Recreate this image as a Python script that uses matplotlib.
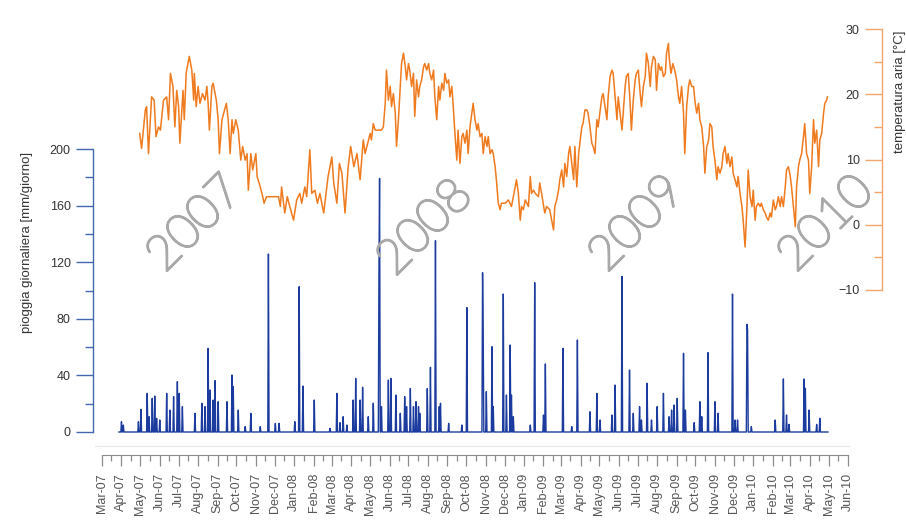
import numpy as np
import matplotlib
matplotlib.use("Agg")
import matplotlib.pyplot as plt
import matplotlib.dates as mdates
import matplotlib.patheffects as pe
from matplotlib.ticker import MultipleLocator, FixedLocator
from matplotlib import font_manager

plt.rcParams["font.family"] = ["Liberation Sans", "DejaVu Sans"]

# ---------------------------------------------------------------- data
origin = np.datetime64("2007-03-01")          # day offsets below count from here

# daily rainfall: zero except on the listed rain days
rain_first = np.datetime64("2007-03-28")
rain_last = np.datetime64("2010-04-30")
rain_day = [31, 34, 58, 62, 72, 75, 80, 84, 87, 92, 103, 108, 114, 120, 123, 128,
            148, 159, 164, 169, 172, 177, 180, 185, 199, 207, 209, 217, 228, 237,
            252, 265, 276, 282, 307, 314, 320, 338, 363, 374, 379, 384, 390, 400,
            404, 411, 415, 424, 432, 441, 442, 445, 456, 460, 468, 475, 482, 485,
            491, 496, 500, 504, 506, 518, 523, 531, 537, 539, 552, 573, 581, 606,
            607, 612, 621, 623, 639, 644, 650, 652, 655, 682, 689, 703, 706, 734,
            748, 757, 777, 788, 793, 812, 817, 828, 840, 846, 856, 859, 868, 875,
            884, 894, 903, 907, 911, 916, 926, 929, 943, 952, 955, 965, 976, 981,
            1004, 1008, 1012, 1027, 1028, 1034, 1072, 1085, 1090, 1094, 1118, 1120,
            1126, 1138, 1143]
rain_mm = [7.3, 4.9, 7.3, 16.0, 27.3, 10.8, 23.8, 25.4, 9.7, 8.5, 27.3, 15.5, 25.0, 35.6, 27.3, 17.9,
           13.2, 20.3, 17.9, 59.1, 29.7, 22.6, 36.3, 21.4, 21.4, 40.3, 32.0, 15.5, 3.8, 13.2,
           3.8, 125.8, 6.1, 6.1, 7.3, 102.7, 32.5, 22.6, 2.6, 27.3, 6.6, 10.8, 4.9, 22.6,
           37.9, 22.6, 31.6, 10.8, 20.3, 113.0, 179.3, 17.9, 36.7, 37.9, 26.1, 13.2, 25.0, 17.9,
           30.7, 17.9, 21.4, 17.9, 13.2, 30.7, 45.7, 135.2, 17.9, 20.3, 6.1, 4.9, 87.9, 112.6,
           69.7, 28.5, 60.3, 17.9, 97.5, 26.1, 61.5, 26.1, 10.8, 4.9, 105.5, 12.0, 48.1, 59.1,
           3.8, 65.0, 14.3, 27.3, 8.5, 12.0, 33.2, 110.0, 43.8, 13.2, 17.9, 8.5, 34.4, 8.5,
           17.9, 27.3, 10.8, 15.5, 19.1, 23.8, 55.6, 15.5, 6.6, 21.4, 10.8, 56.1, 21.4, 13.2,
           97.5, 8.5, 8.5, 76.1, 72.1, 3.8, 8.5, 37.5, 12.0, 5.4, 37.5, 30.9,
           15.5, 5.4, 9.7]

# air temperature readings
temp_day = [60, 63, 69, 71, 74, 79, 83, 86, 90, 93, 98, 103, 106, 109, 113, 116, 119, 122, 124, 129,
            131, 134, 139, 143, 146, 147, 150, 153, 156, 160, 164, 167, 169, 171, 175, 177, 182, 185,
            187, 191, 198, 201, 204, 207, 209, 213, 217, 221, 224, 228, 231, 233, 237, 240, 245, 247,
            252, 256, 258, 262, 281, 284, 286, 291, 295, 299, 305, 310, 315, 318, 323, 326, 331, 334,
            339, 343, 347, 353, 360, 366, 369, 374, 378, 382, 387, 392, 396, 401, 406, 411, 416, 419,
            427, 429, 432, 435, 440, 445, 448, 451, 453, 456, 459, 461, 464, 467, 469, 472, 475, 477,
            480, 483, 485, 488, 490, 493, 496, 498, 501, 504, 506, 509, 512, 514, 517, 520, 522, 525,
            528, 530, 533, 536, 538, 541, 544, 546, 549, 552, 554, 557, 559, 562, 565, 567, 570, 573,
            575, 578, 581, 583, 586, 589, 591, 594, 597, 599, 602, 605, 607, 610, 613, 615, 618, 621,
            623, 626, 628, 631, 634, 636, 642, 647, 652, 658, 660, 663, 666, 668, 671, 674, 679, 682,
            684, 687, 690, 695, 697, 700, 705, 708, 713, 716, 719, 721, 724, 727, 729, 732, 735, 737,
            740, 743, 745, 748, 751, 753, 756, 759, 764, 766, 769, 772, 774, 777, 780, 782, 785, 788,
            790, 796,
            798, 801, 804, 806, 809, 812, 814, 817, 820, 822, 825, 828, 830, 833, 835, 838, 841, 843,
            846, 849, 851, 854, 857, 859, 862, 865, 867, 870, 873, 875, 878, 881, 883, 886, 889, 891,
            894, 897, 899, 902, 903, 906, 909, 912, 915, 918, 920, 923, 926, 928, 931, 934, 936, 939,
            942, 944, 947, 950, 952, 955, 958, 960, 963, 966, 968, 971, 973, 976, 979, 981, 984, 987,
            989, 992, 995, 997, 1000, 1003, 1005, 1008, 1011, 1013, 1016, 1019, 1021, 1024, 1027, 1029,
            1032, 1035, 1037, 1040, 1042, 1045, 1048, 1050, 1053, 1056, 1058, 1061, 1064, 1066, 1069,
            1072, 1074, 1077, 1080, 1082, 1085, 1088, 1090, 1093, 1096, 1098, 1101, 1104, 1106, 1109,
            1111, 1114, 1117, 1119, 1122, 1125, 1127, 1130, 1133, 1135, 1138, 1141, 1143, 1146, 1149,
            1151, 1154, 1155]
temp_c = [14.0, 11.7, 17.6, 18.1, 10.9, 19.6, 19.1, 13.5, 15.0, 14.5, 19.1, 19.6, 16.1, 23.2, 21.2, 15.0, 20.6, 18.1, 12.5, 20.6,
          16.1, 23.2, 25.8, 23.7, 19.1, 23.2, 18.1, 21.2, 18.6, 20.1, 19.1, 21.2, 18.6, 14.5, 21.2, 21.7, 19.1, 16.1,
          10.9, 16.1, 18.6, 16.1, 10.9, 16.1, 14.0, 16.1, 14.5, 9.9, 12.0, 9.9, 10.9, 5.3, 10.9, 8.4, 10.9, 7.4,
          5.8, 4.3, 3.3, 4.3, 4.3, 2.8, 5.8, 1.8, 4.3, 2.8, 0.7, 3.8, 4.8, 3.3, 5.8, 4.3, 11.5, 4.8,
          5.3, 3.3, 4.8, 1.8, 7.4, 10.4, 6.4, 3.3, 9.4, 7.9, 1.8, 8.9, 12.0, 8.9, 10.9, 6.9, 13.0, 10.9,
          14.0, 13.0, 15.5, 14.5, 14.5, 14.5, 15.0, 18.6, 23.7, 19.1, 21.2, 18.1, 20.1, 17.1, 12.0, 16.1, 21.2, 24.7,
          26.3, 24.2, 22.2, 24.7, 23.7, 21.2, 23.2, 16.6, 22.2, 19.6, 21.2, 22.2, 24.2, 24.7, 23.7, 24.7, 23.2, 22.2,
          23.7, 19.6, 16.1, 21.2, 19.1, 21.7, 20.6, 23.2, 21.7, 22.2, 19.6, 21.2, 18.6, 14.0, 9.9, 14.5, 9.4, 13.5,
          14.0, 12.5, 14.5, 10.9, 15.0, 17.1, 18.6, 16.1, 14.5, 15.5, 13.5, 14.0, 10.9, 13.5, 12.0, 13.5, 10.9, 11.5,
          10.9, 8.9, 6.9, 3.3, 2.3, 3.3, 3.3, 3.8, 2.8, 5.8, 6.9, 4.8, 0.7, 2.8, 2.3, 3.8, 2.8, 7.4,
          4.8, 5.3, 4.8, 4.3, 6.4, 4.8, 1.8, 2.8, 2.3, 0.7, -0.8, 2.8, 3.8, 5.3, 6.9, 8.4, 5.8, 9.4,
          7.4, 10.9, 12.0, 9.4, 6.9, 12.0, 5.8, 10.9, 15.0, 15.5, 17.6, 17.6, 17.1, 15.0, 12.5, 12.0, 10.9, 16.1,
          15.0, 19.6,
          20.1, 18.1, 16.1, 19.6, 22.7, 23.7, 23.2, 19.6, 16.1, 19.6, 17.1, 14.5, 17.1, 21.2, 22.7, 23.2, 18.6, 14.5,
          19.1, 22.2, 23.2, 23.7, 20.1, 18.1, 21.2, 22.7, 26.3, 24.7, 21.2, 24.2, 25.8, 25.3, 20.6, 24.7, 23.7, 24.2,
          22.7, 23.2, 26.3, 27.8, 25.8, 23.2, 24.7, 23.7, 22.2, 19.6, 18.6, 21.2, 17.1, 10.9, 18.1, 21.2, 22.2, 21.2,
          21.2, 19.1, 17.1, 18.6, 16.1, 15.0, 12.0, 7.9, 12.0, 13.0, 15.5, 15.0, 12.0, 9.9, 6.9, 8.9, 7.9, 8.9,
          10.9, 12.0, 9.4, 10.9, 8.9, 10.4, 7.9, 6.9, 5.8, 7.4, 4.8, 2.8, 0.7, -3.4, 2.8, 8.4,
          4.3, 2.8, 5.3, 0.7, 2.8, 3.3, 2.8, 3.3, 2.3, 1.8, 1.2, 0.7, 1.8, 1.2, 3.8,
          2.3, 2.8, 4.3, 2.8, 4.3, 2.8, 5.8, 8.4, 8.9, 7.4, 5.8, 2.8, -0.3, 5.8, 8.9,
          9.9, 10.9, 13.5, 15.5, 10.9, 9.9, 4.8, 8.9, 16.1, 12.5, 14.5, 8.9, 13.0, 14.0, 17.1,
          18.6, 19.1, 19.6]

year_names = ["2007", "2008", "2009", "2010"]

# ---------------------------------------------------------------- series
rain_dates = np.arange(rain_first, rain_last + np.timedelta64(1, "D"))
rain_values = np.zeros(len(rain_dates))
rain_idx = (origin + np.array(rain_day)) - rain_first
rain_values[rain_idx.astype(int)] = rain_mm

temp_dates = origin + np.array(temp_day)
temp_values = np.array(temp_c)

# ---------------------------------------------------------------- layout
W, H = 906, 521
fig = plt.figure(figsize=(W / 100, H / 100), dpi=100)
fig.patch.set_facecolor("white")

x_left, x_right = 93, 882            # pixel columns of the two y spines
x0 = mdates.date2num(origin)
px_per_day = 0.628
tick0_px = 102
xlim = (x0 + (x_left - tick0_px) / px_per_day, x0 + (x_right - tick0_px) / px_per_day)

def box(left, right, top, bottom):
    return [left / W, 1 - bottom / H, (right - left) / W, (bottom - top) / H]

RAIN_C = "#1b3b9e"
RAIN_AX = "#4466b0"
TEMP_C = "#f07a1e"
TEMP_AX = "#f3a66b"
TXT = "#333333"

# rainfall axes
ax_r = fig.add_axes(box(x_left, x_right, 149, 432))
ax_r.set_facecolor("none")
ax_r.set_xlim(*xlim)
ax_r.set_ylim(0, 200)
ax_r.plot(rain_dates, rain_values, color=RAIN_C, lw=1.0, clip_on=False, zorder=3)
for s in ("top", "right", "bottom"):
    ax_r.spines[s].set_visible(False)
ax_r.spines["left"].set_color(RAIN_AX)
ax_r.spines["left"].set_linewidth(1.0)
ax_r.yaxis.set_major_locator(MultipleLocator(40))
ax_r.yaxis.set_minor_locator(MultipleLocator(20))
ax_r.tick_params(axis="y", which="major", length=12, width=1.0, color=RAIN_AX,
                 labelsize=9, labelcolor=TXT, pad=4)
ax_r.tick_params(axis="y", which="minor", length=6, width=1.0, color=RAIN_AX)
ax_r.set_xticks([])
fig.text(27 / W, 1 - 242 / H, "pioggia giornaliera [mm/giorno]", rotation=90,
         ha="center", va="center", fontsize=9.5, color=TXT)

# temperature axes (its y axis sits on the right-hand spine, labels inside)
ax_t = fig.add_axes(box(x_left, x_right, 29, 290))
ax_t.set_facecolor("none")
ax_t.set_xlim(*xlim)
ax_t.set_ylim(-10, 30)
ax_t.plot(temp_dates, temp_values, color=TEMP_C, lw=1.1, clip_on=False, zorder=3)
for s in ("top", "right", "bottom"):
    ax_t.spines[s].set_visible(False)
ax_t.spines["left"].set_position(("axes", 1.0))
ax_t.spines["left"].set_color(TEMP_AX)
ax_t.spines["left"].set_linewidth(1.0)
ax_t.yaxis.set_major_locator(MultipleLocator(10))
ax_t.yaxis.set_minor_locator(MultipleLocator(5))
ax_t.tick_params(axis="y", which="major", length=12, width=1.0, color=TEMP_AX,
                 labelsize=9, labelcolor=TXT, pad=4)
ax_t.tick_params(axis="y", which="minor", length=6, width=1.0, color=TEMP_AX)
ax_t.set_xticks([])
fig.text(900 / W, 1 - 92 / H, "temperatura aria [°C]", rotation=90,
         ha="center", va="center", fontsize=9.5, color=TXT)

# big year watermarks: a light face, thickened slightly with a matching stroke
YEAR_C = "#a9a9a9"
year_font = font_manager.FontProperties(family=["Lato", "Liberation Sans"], weight="light", size=35)
year_pos = [(195, 224), (425, 228), (637, 224), (826, 224)]
for name, (px, py) in zip(year_names, year_pos):
    fig.text(px / W, 1 - py / H, name, rotation=45, ha="center", va="center",
             fontproperties=year_font, color=YEAR_C, zorder=1,
             path_effects=[pe.withStroke(linewidth=1.6, foreground=YEAR_C)])

# faint rule under the rainfall baseline
fig.add_artist(plt.Line2D([95 / W, 850 / W], [1 - 446 / H, 1 - 446 / H],
                          color="#e8e8e8", lw=0.8))

# month axis
ax_d = fig.add_axes(box(x_left, x_right, 450, 455))
ax_d.set_facecolor("none")
ax_d.set_xlim(*xlim)
for s in ("top", "right", "left"):
    ax_d.spines[s].set_visible(False)
ax_d.set_yticks([])
month_starts = np.arange(np.datetime64("2007-03"), np.datetime64("2010-07"))
major = mdates.date2num(month_starts.astype("datetime64[D]"))
minor = mdates.date2num(month_starts[:-1].astype("datetime64[D]") + np.timedelta64(15, "D"))
ax_d.spines["bottom"].set_bounds(major[0], major[-1])
ax_d.spines["bottom"].set_color("#8c8c8c")
ax_d.xaxis.set_major_locator(FixedLocator(major))
ax_d.xaxis.set_minor_locator(FixedLocator(minor))
ax_d.xaxis.set_major_formatter(mdates.DateFormatter("%b-%y"))
ax_d.tick_params(axis="x", which="major", length=8, width=0.9, color="#8c8c8c",
                 labelsize=9, labelcolor="#555555", labelrotation=90, pad=5)
ax_d.tick_params(axis="x", which="minor", length=4, width=0.9, color="#8c8c8c")

fig.savefig("out.png", dpi=100)
